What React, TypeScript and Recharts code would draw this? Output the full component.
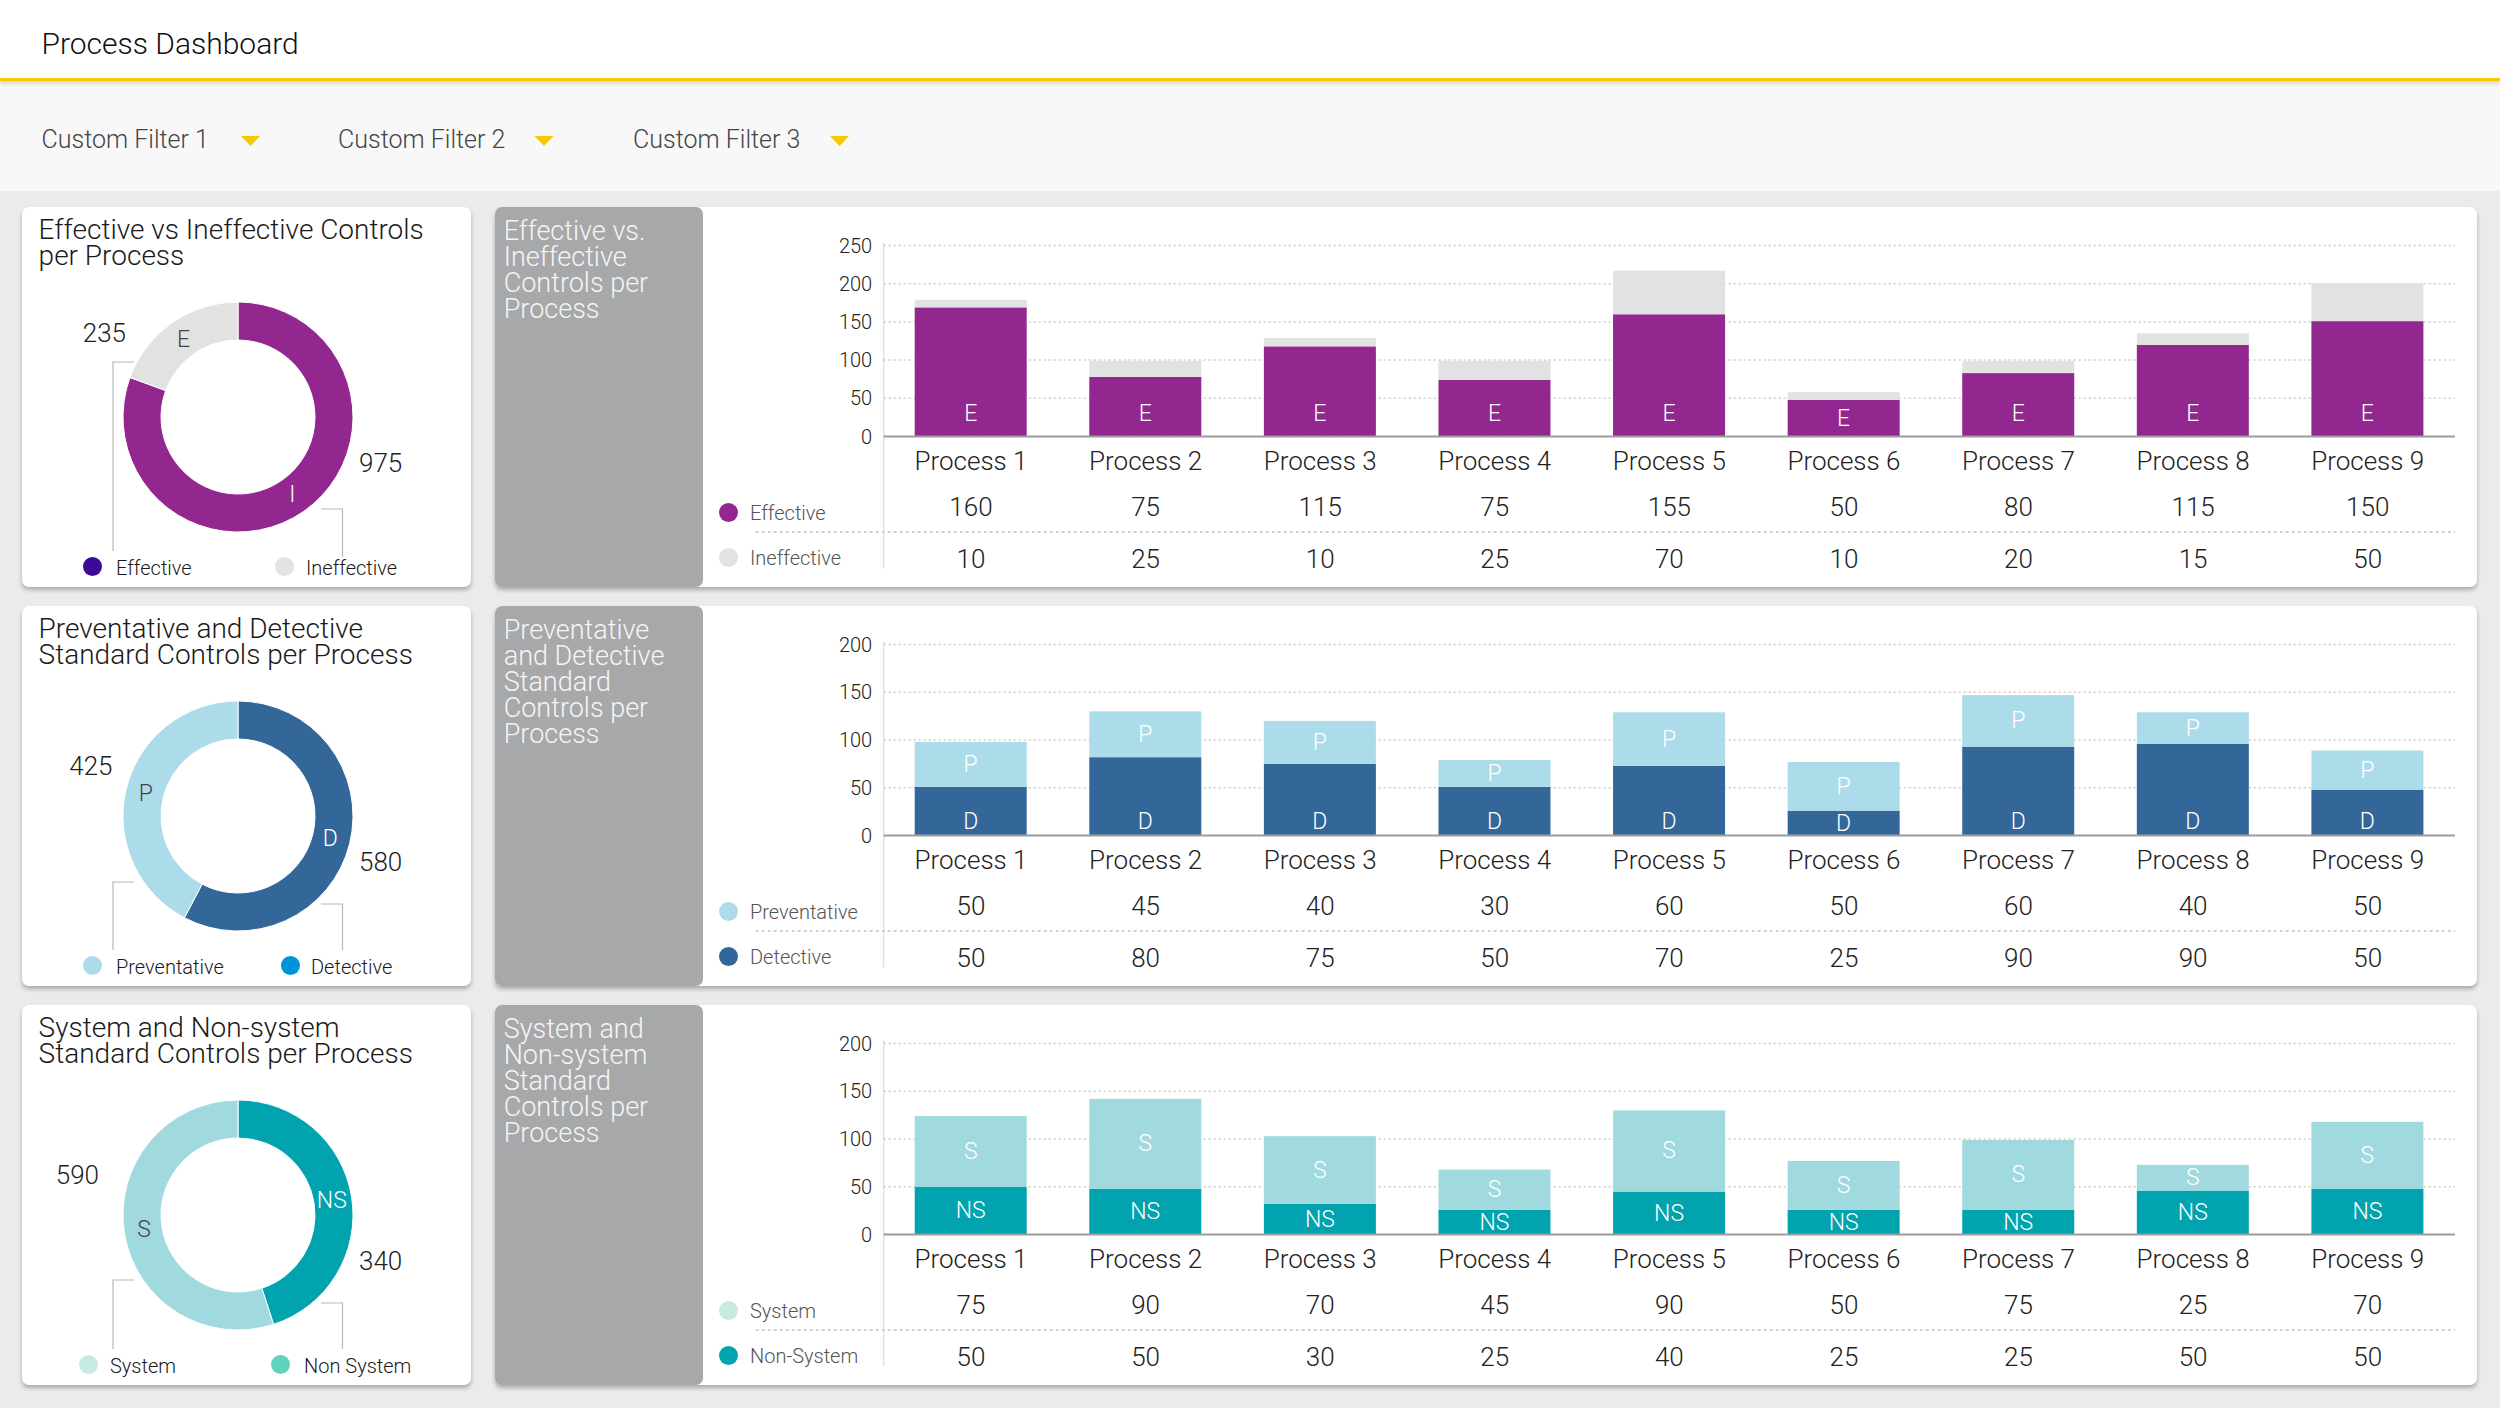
import React from 'react';
import { BarChart, Bar, XAxis, YAxis, CartesianGrid, PieChart, Pie, Cell } from 'recharts';

const FONT = "Roboto, 'Liberation Sans', Arial, Helvetica, sans-serif";
const FW = 300;

// ---------- data ----------
const processNames = ['Process 1', 'Process 2', 'Process 3', 'Process 4', 'Process 5', 'Process 6', 'Process 7', 'Process 8', 'Process 9'];
const filterLabels = ['Custom Filter 1', 'Custom Filter 2', 'Custom Filter 3'];

// Effective vs Ineffective: bar heights, table values as printed
const effectiveBars = [169, 78, 118, 74, 160, 48, 83, 120, 151];
const ineffectiveBars = [10, 21, 11, 25, 57, 10, 16, 15, 50];
const effectiveTable = ['160', '75', '115', '75', '155', '50', '80', '115', '150'];
const ineffectiveTable = ['10', '25', '10', '25', '70', '10', '20', '15', '50'];

// Preventative vs Detective
const detectiveBars = [51, 82, 75, 51, 73, 26, 93, 96, 48];
const preventativeBars = [47, 48, 45, 28, 56, 51, 54, 33, 41];
const preventativeTable = ['50', '45', '40', '30', '60', '50', '60', '40', '50'];
const detectiveTable = ['50', '80', '75', '50', '70', '25', '90', '90', '50'];

// System vs Non-system
const nonSystemBars = [50, 48, 32, 26, 45, 26, 26, 46, 48];
const systemBars = [74, 94, 71, 42, 85, 51, 73, 27, 70];
const systemTable = ['75', '90', '70', '45', '90', '50', '75', '25', '70'];
const nonSystemTable = ['50', '50', '30', '25', '40', '25', '25', '50', '50'];

const yTicks250 = [0, 50, 100, 150, 200, 250];
const yTicks200 = [0, 50, 100, 150, 200];

// Donuts: slice values (first slice runs clockwise from 12 o'clock) and printed totals
const donutEffective = [975, 235];
const donutEffectiveText = ['975', '235'];
const donutPrevDet = [580, 425];
const donutPrevDetText = ['580', '425'];
const donutSystemArc = [162, 198]; // arc shares read from the ring
const donutSystemText = ['340', '590'];

// ---------- layout constants ----------
const ROW_TOPS = [207, 606, 1005];
const ROW_H = 380;

type Legend = { label: string; color: string; dotX: number; textX: number };

type DonutSpec = {
  title: string[];
  values: number[];
  texts: string[];
  colors: string[];
  letters: string[];
  letterColors: string[];
  leftNum: { dx: number; dy: number };
  conn: { lh: number; lv: number; rh: number; rv: number };
  legend: Legend[];
};

const DONUT_CX = 216;
const DONUT_CY = 210;

function Donut({ spec }: { spec: DonutSpec }) {
  const data = spec.values.map((v, i) => ({ name: spec.letters[i], value: v }));
  const RAD = Math.PI / 180;
  const renderLabel = (p: any) => {
    const { cx, cy, midAngle, index } = p;
    const r = 95;
    const lx = cx + r * Math.cos(-midAngle * RAD);
    const ly = cy + r * Math.sin(-midAngle * RAD);
    const isRight = index === 0;
    return (
      <g key={'lab' + index}>
        <text x={lx} y={ly} textAnchor="middle" dominantBaseline="central" fontSize={23} fontWeight={FW} fontFamily={FONT} fill={spec.letterColors[index]}>
          {spec.letters[index]}
        </text>
        <text
          x={isRight ? cx + 121 : cx + spec.leftNum.dx}
          y={isRight ? cy + 46 : cy + spec.leftNum.dy}
          textAnchor={isRight ? 'start' : 'end'}
          dominantBaseline="central"
          fontSize={26}
          fontWeight={FW}
          fontFamily={FONT}
          fill="#222"
        >
          {spec.texts[index]}
        </text>
      </g>
    );
  };
  const c = spec.conn;
  return (
    <div style={{ position: 'absolute', left: 22, top: 0, width: 449, height: ROW_H, background: '#fff', borderRadius: 7, boxShadow: '0 3px 4px rgba(0,0,0,0.28)' }}>
      <div style={{ position: 'absolute', left: 16.6, top: 10.3, fontSize: 28, lineHeight: '26px', color: '#1a1a1a', whiteSpace: 'nowrap' }}>
        {spec.title.map((t, i) => (
          <div key={i}>{t}</div>
        ))}
      </div>
      <svg width={449} height={ROW_H} style={{ position: 'absolute', left: 0, top: 0 }}>
        <path d={`M112 ${c.lh} H91 V${c.lv}`} fill="none" stroke="#b8b8b8" strokeWidth={1.2} />
        <path d={`M299 ${c.rh} H320.5 V${c.rv}`} fill="none" stroke="#b8b8b8" strokeWidth={1.2} />
      </svg>
      <div style={{ position: 'absolute', left: 0, top: 0 }}>
        <PieChart width={449} height={ROW_H} margin={{ top: 0, right: 0, bottom: 0, left: 0 }}>
          <Pie
            data={data}
            dataKey="value"
            cx={DONUT_CX}
            cy={DONUT_CY}
            innerRadius={77}
            outerRadius={115}
            startAngle={90}
            endAngle={-270}
            stroke="#ffffff"
            strokeWidth={1}
            isAnimationActive={false}
            labelLine={false}
            label={renderLabel}
          >
            {data.map((d, i) => (
              <Cell key={i} fill={spec.colors[i]} />
            ))}
          </Pie>
        </PieChart>
      </div>
      {spec.legend.map((l, i) => (
        <React.Fragment key={i}>
          <div style={{ position: 'absolute', left: l.dotX - 9.5, top: 359 - 9.5, width: 19, height: 19, borderRadius: '50%', background: l.color }} />
          <div style={{ position: 'absolute', left: l.textX, top: 351, fontSize: 20, lineHeight: '20px', color: '#1a1a1a', whiteSpace: 'nowrap' }}>{l.label}</div>
        </React.Fragment>
      ))}
    </div>
  );
}

type PanelSpec = {
  grayTitle: string[];
  lowBars: number[];
  highBars: number[];
  lowColor: string;
  highColor: string;
  lowLetter: string;
  highLetter: string;
  lowBottomOffset: number | null;
  yMax: number;
  yTicks: number[];
  row1: string[];
  row2: string[];
  row1Name: string;
  row2Name: string;
  row1Color: string;
  row2Color: string;
};

const CHART_LEFT = 703;
const CHART_W = 1774;
const PLOT_TOP = 38.5;
const PLOT_H = 191;
const PLOT_LEFT_PAGE = 883.7;
const PLOT_RIGHT_PAGE = 2455;

function makeShape(fill: string, letter: string, bottomOffset: number | null) {
  return (props: any) => {
    const { x, y, width, height } = props;
    if (width == null || height == null || !(height > 0)) return <g />;
    const mid = y + height / 2;
    const ly = bottomOffset == null ? mid : Math.max(mid, y + height - bottomOffset);
    return (
      <g>
        <rect x={x} y={y} width={width} height={height} fill={fill} />
        <text x={x + width / 2} y={ly} textAnchor="middle" dominantBaseline="central" fontSize={23} fontWeight={FW} fontFamily={FONT} fill="#ffffff">
          {letter}
        </text>
      </g>
    );
  };
}

function BarPanel({ spec }: { spec: PanelSpec }) {
  const data = processNames.map((name, i) => ({ name, low: spec.lowBars[i], high: spec.highBars[i] }));
  const axisY = PLOT_TOP + PLOT_H;
  const tickStyle = { fontSize: 26, fill: '#222', fontFamily: FONT, fontWeight: FW };
  return (
    <>
      <div style={{ position: 'absolute', left: 494.5, top: 0, width: 2477 - 494.5, height: ROW_H, background: '#fff', borderRadius: 7, boxShadow: '0 3px 4px rgba(0,0,0,0.28)' }} />
      <div style={{ position: 'absolute', left: 494.5, top: 0, width: 208, height: ROW_H, background: '#a7a8aa', borderRadius: 7 }}>
        <div style={{ position: 'absolute', left: 9.2, top: 10.6, fontSize: 27, lineHeight: '26px', color: '#f5f5f5', whiteSpace: 'nowrap' }}>
          {spec.grayTitle.map((t, i) => (
            <div key={i}>{t}</div>
          ))}
        </div>
      </div>
      <svg width={2500} height={ROW_H} style={{ position: 'absolute', left: 0, top: 0, pointerEvents: 'none' }}>
        <line x1={PLOT_LEFT_PAGE} x2={PLOT_LEFT_PAGE} y1={PLOT_TOP - 3} y2={361.5} stroke="#dcdcdc" strokeWidth={1.2} />
        <line x1={755.7} x2={PLOT_RIGHT_PAGE} y1={axisY + 95.5} y2={axisY + 95.5} stroke="#c4c4c4" strokeWidth={1.5} strokeDasharray="3 3" />
      </svg>
      <div style={{ position: 'absolute', left: CHART_LEFT, top: 0 }}>
        <BarChart width={CHART_W} height={ROW_H} data={data} margin={{ top: PLOT_TOP, right: 22, bottom: 15.5, left: 120.7 }}>
          <CartesianGrid vertical={false} stroke="#cccccc" strokeWidth={1.5} strokeDasharray="2 3" />
          <YAxis
            domain={[0, spec.yMax]}
            ticks={spec.yTicks}
            interval={0}
            width={60}
            axisLine={false}
            tickLine={false}
            tickSize={0}
            tickMargin={11.5}
            tick={{ fontSize: 20, fill: '#222', fontFamily: FONT, fontWeight: FW }}
          />
          <XAxis xAxisId={0} dataKey="name" height={45} interval={0} tickLine={false} tickSize={0} tickMargin={15} axisLine={{ stroke: '#9d9d9d', strokeWidth: 2 }} tick={tickStyle} />
          <XAxis xAxisId={1} dataKey="name" height={50} interval={0} tickLine={false} tickSize={0} tickMargin={16.5} axisLine={false} tick={tickStyle} tickFormatter={(_v: any, i: number) => spec.row1[i]} />
          <XAxis xAxisId={2} dataKey="name" height={40} interval={0} tickLine={false} tickSize={0} tickMargin={18.1} axisLine={false} tick={tickStyle} tickFormatter={(_v: any, i: number) => spec.row2[i]} />
          <Bar xAxisId={0} dataKey="low" stackId="s" barSize={112} fill={spec.lowColor} isAnimationActive={false} shape={makeShape(spec.lowColor, spec.lowLetter, spec.lowBottomOffset)} />
          <Bar xAxisId={0} dataKey="high" stackId="s" barSize={112} fill={spec.highColor} isAnimationActive={false} shape={makeShape(spec.highColor, spec.highLetter, null)} />
        </BarChart>
      </div>
      {[
        { name: spec.row1Name, color: spec.row1Color, y: axisY + 75.5 },
        { name: spec.row2Name, color: spec.row2Color, y: axisY + 120.5 },
      ].map((r, i) => (
        <React.Fragment key={i}>
          <div style={{ position: 'absolute', left: 728 - 9.5, top: r.y - 9.5, width: 19, height: 19, borderRadius: '50%', background: r.color }} />
          <div style={{ position: 'absolute', left: 750, top: r.y - 9, fontSize: 20, lineHeight: '20px', color: '#555', whiteSpace: 'nowrap' }}>{r.name}</div>
        </React.Fragment>
      ))}
    </>
  );
}

const donuts: DonutSpec[] = [
  {
    title: ['Effective vs Ineffective Controls', 'per Process'],
    values: donutEffective,
    texts: donutEffectiveText,
    colors: ['#92278f', '#e2e2e2'],
    letters: ['I', 'E'],
    letterColors: ['#ffffff', '#444444'],
    leftNum: { dx: -112, dy: -84 },
    conn: { lh: 155, lv: 344, rh: 302, rv: 350 },
    legend: [
      { label: 'Effective', color: '#3b0a99', dotX: 70.7, textX: 94 },
      { label: 'Ineffective', color: '#e3e3e3', dotX: 262.7, textX: 284 },
    ],
  },
  {
    title: ['Preventative and Detective', 'Standard Controls per Process'],
    values: donutPrevDet,
    texts: donutPrevDetText,
    colors: ['#336699', '#acdce9'],
    letters: ['D', 'P'],
    letterColors: ['#ffffff', '#444444'],
    leftNum: { dx: -125.5, dy: -50 },
    conn: { lh: 276, lv: 344, rh: 298, rv: 344 },
    legend: [
      { label: 'Preventative', color: '#acdce9', dotX: 70.7, textX: 94 },
      { label: 'Detective', color: '#0093d9', dotX: 268, textX: 289 },
    ],
  },
  {
    title: ['System and Non-system', 'Standard Controls per Process'],
    values: donutSystemArc,
    texts: donutSystemText,
    colors: ['#00a3ae', '#a0dadf'],
    letters: ['NS', 'S'],
    letterColors: ['#ffffff', '#444444'],
    leftNum: { dx: -139, dy: -40 },
    conn: { lh: 275, lv: 344, rh: 298, rv: 344 },
    legend: [
      { label: 'System', color: '#c6ebe3', dotX: 66, textX: 88 },
      { label: 'Non System', color: '#5fd4bd', dotX: 258, textX: 282 },
    ],
  },
];

const panels: PanelSpec[] = [
  {
    grayTitle: ['Effective vs.', 'Ineffective', 'Controls per', 'Process'],
    lowBars: effectiveBars,
    highBars: ineffectiveBars,
    lowColor: '#92278f',
    highColor: '#e2e2e2',
    lowLetter: 'E',
    highLetter: '',
    lowBottomOffset: 23,
    yMax: 250,
    yTicks: yTicks250,
    row1: effectiveTable,
    row2: ineffectiveTable,
    row1Name: 'Effective',
    row2Name: 'Ineffective',
    row1Color: '#92278f',
    row2Color: '#e2e2e2',
  },
  {
    grayTitle: ['Preventative', 'and Detective', 'Standard', 'Controls per', 'Process'],
    lowBars: detectiveBars,
    highBars: preventativeBars,
    lowColor: '#336699',
    highColor: '#acdce9',
    lowLetter: 'D',
    highLetter: 'P',
    lowBottomOffset: 13.6,
    yMax: 200,
    yTicks: yTicks200,
    row1: preventativeTable,
    row2: detectiveTable,
    row1Name: 'Preventative',
    row2Name: 'Detective',
    row1Color: '#acdce9',
    row2Color: '#336699',
  },
  {
    grayTitle: ['System and', 'Non-system', 'Standard', 'Controls per', 'Process'],
    lowBars: nonSystemBars,
    highBars: systemBars,
    lowColor: '#00a3ae',
    highColor: '#a0dadf',
    lowLetter: 'NS',
    highLetter: 'S',
    lowBottomOffset: null,
    yMax: 200,
    yTicks: yTicks200,
    row1: systemTable,
    row2: nonSystemTable,
    row1Name: 'System',
    row2Name: 'Non-System',
    row1Color: '#c6ebe3',
    row2Color: '#00a3ae',
  },
];

const filterX = [41.5, 338, 633];
const triX = [241, 534.5, 830];

export default function App() {
  return (
    <div style={{ position: 'absolute', left: 0, top: 0, width: 2500, height: 1408, overflow: 'hidden', background: '#ebebeb', fontFamily: FONT, fontWeight: FW }}>
      {/* filter bar */}
      <div style={{ position: 'absolute', left: 0, top: 81, width: 2500, height: 110, background: '#f8f8f8' }} />
      {filterLabels.map((f, i) => (
        <div key={i} style={{ position: 'absolute', left: filterX[i], top: 126.8, fontSize: 25, lineHeight: '25px', color: '#444', whiteSpace: 'nowrap' }}>{f}</div>
      ))}
      <svg width={2500} height={200} style={{ position: 'absolute', left: 0, top: 0 }}>
        {triX.map((x, i) => (
          <polygon key={i} points={`${x},136 ${x + 19},136 ${x + 9.5},146`} fill="#f5c800" />
        ))}
      </svg>
      {/* header */}
      <div style={{ position: 'absolute', left: 0, top: 0, width: 2500, height: 78, background: '#fff', borderBottom: '3px solid #f7ca00', boxShadow: '0 2px 5px rgba(0,0,0,0.18)' }}>
        <div style={{ position: 'absolute', left: 41.5, top: 28.6, fontSize: 30, lineHeight: '30px', color: '#111', whiteSpace: 'nowrap' }}>Process Dashboard</div>
      </div>
      {ROW_TOPS.map((top, i) => (
        <div key={i} style={{ position: 'absolute', left: 0, top, width: 2500, height: ROW_H }}>
          <BarPanel spec={panels[i]} />
          <Donut spec={donuts[i]} />
        </div>
      ))}
    </div>
  );
}
